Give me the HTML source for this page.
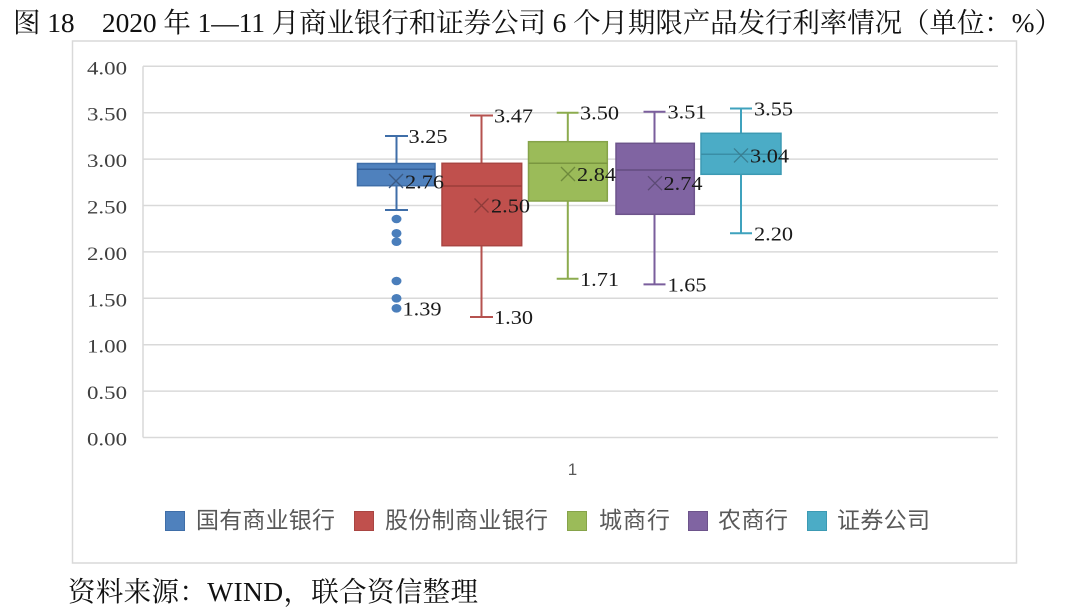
<!DOCTYPE html>
<html>
<head>
<meta charset="utf-8">
<style>
html,body{margin:0;padding:0;background:#fff;}
body{width:1080px;height:613px;overflow:hidden;}
svg{display:block;}
.ax{font-family:"Liberation Serif","Noto Serif CJK SC",serif;font-size:19px;fill:#404040;}
.dl{font-family:"Liberation Serif","Noto Serif CJK SC",serif;font-size:19.5px;fill:#1a1a1a;}
.lg{font-family:"Liberation Sans","Noto Sans CJK SC",sans-serif;font-size:23px;fill:#595959;}
.tt{font-family:"Liberation Serif","Noto Serif CJK SC",serif;font-size:27.5px;fill:#111;}
</style>
</head>
<body>
<svg width="1080" height="613" viewBox="0 0 1080 613" xmlns="http://www.w3.org/2000/svg">
<rect width="1080" height="613" fill="#fff"/>
<!-- title -->
<text class="tt" x="13" y="32" textLength="1049" lengthAdjust="spacing">图 18　2020 年 1—11 月商业银行和证券公司 6 个月期限产品发行利率情况（单位：%）</text>
<!-- outer frame -->
<rect x="72.5" y="41" width="944" height="522" fill="none" stroke="#D9D9D9" stroke-width="1.5"/>
<!-- gridlines -->
<g stroke="#D9D9D9" stroke-width="1.5">
<line x1="143" y1="66.3" x2="998" y2="66.3"/>
<line x1="143" y1="112.7" x2="998" y2="112.7"/>
<line x1="143" y1="159.1" x2="998" y2="159.1"/>
<line x1="143" y1="205.5" x2="998" y2="205.5"/>
<line x1="143" y1="251.9" x2="998" y2="251.9"/>
<line x1="143" y1="298.3" x2="998" y2="298.3"/>
<line x1="143" y1="344.7" x2="998" y2="344.7"/>
<line x1="143" y1="391.1" x2="998" y2="391.1"/>
<line x1="143" y1="437.5" x2="998" y2="437.5"/>
<line x1="143" y1="66.3" x2="143" y2="437.5"/>
</g>
<!-- y axis labels -->
<g class="ax">
<text x="87" y="74.3" textLength="40" lengthAdjust="spacingAndGlyphs">4.00</text>
<text x="87" y="120.7" textLength="40" lengthAdjust="spacingAndGlyphs">3.50</text>
<text x="87" y="167.1" textLength="40" lengthAdjust="spacingAndGlyphs">3.00</text>
<text x="87" y="213.5" textLength="40" lengthAdjust="spacingAndGlyphs">2.50</text>
<text x="87" y="259.9" textLength="40" lengthAdjust="spacingAndGlyphs">2.00</text>
<text x="87" y="306.3" textLength="40" lengthAdjust="spacingAndGlyphs">1.50</text>
<text x="87" y="352.7" textLength="40" lengthAdjust="spacingAndGlyphs">1.00</text>
<text x="87" y="399.1" textLength="40" lengthAdjust="spacingAndGlyphs">0.50</text>
<text x="87" y="445.5" textLength="40" lengthAdjust="spacingAndGlyphs">0.00</text>
</g>
<text x="572.5" y="475" text-anchor="middle" style="font-family:'Liberation Sans',sans-serif;font-size:17px;fill:#595959;">1</text>

<!-- blue series -->
<g stroke="#3F6EA8" stroke-width="2" fill="none">
<line x1="396.5" y1="136" x2="396.5" y2="163.5"/>
<line x1="385" y1="136" x2="408" y2="136"/>
<line x1="396.5" y1="185.7" x2="396.5" y2="210"/>
<line x1="385" y1="210" x2="408" y2="210"/>
</g>
<rect x="357.5" y="163.5" width="77.5" height="22.2" fill="#4F81BD" stroke="#3F6EA8" stroke-width="1.5"/>
<line x1="357.5" y1="169.3" x2="435" y2="169.3" stroke="#35619A" stroke-width="1.5"/>
<g stroke="#3A5A85" stroke-width="1.3"><line x1="389" y1="174" x2="403" y2="188"/><line x1="403" y1="174" x2="389" y2="188"/></g>
<g fill="#4A7EBB">
<ellipse cx="396.5" cy="219" rx="5" ry="4.3"/>
<ellipse cx="396.5" cy="233.3" rx="5" ry="4.3"/>
<ellipse cx="396.5" cy="241.7" rx="5" ry="4.3"/>
<ellipse cx="396.5" cy="281" rx="5" ry="4.3"/>
<ellipse cx="396.5" cy="298.3" rx="5" ry="4.3"/>
<ellipse cx="396.5" cy="308.3" rx="5" ry="4.3"/>
</g>

<!-- red series -->
<g stroke="#B5524F" stroke-width="2" fill="none">
<line x1="481.5" y1="115.5" x2="481.5" y2="163.3"/>
<line x1="470" y1="115.5" x2="493" y2="115.5"/>
<line x1="481.5" y1="245.7" x2="481.5" y2="317"/>
<line x1="470" y1="317" x2="493" y2="317"/>
</g>
<rect x="442" y="163.3" width="79.7" height="82.4" fill="#C0504D" stroke="#A94542" stroke-width="1.5"/>
<line x1="442" y1="186" x2="521.7" y2="186" stroke="#9A3D3A" stroke-width="1.5"/>
<g stroke="#8E3B39" stroke-width="1.3"><line x1="474.5" y1="198.5" x2="488.5" y2="212.5"/><line x1="488.5" y1="198.5" x2="474.5" y2="212.5"/></g>

<!-- green series -->
<g stroke="#8CAB4E" stroke-width="2" fill="none">
<line x1="567.8" y1="112.7" x2="567.8" y2="141.7"/>
<line x1="556.7" y1="112.7" x2="578.5" y2="112.7"/>
<line x1="567.8" y1="201" x2="567.8" y2="278.8"/>
<line x1="556.7" y1="278.8" x2="578.5" y2="278.8"/>
</g>
<rect x="528.5" y="141.7" width="78.8" height="59.3" fill="#9BBB59" stroke="#86A34A" stroke-width="1.5"/>
<line x1="528.5" y1="163.3" x2="607.3" y2="163.3" stroke="#7A9640" stroke-width="1.5"/>
<g stroke="#6E8A3C" stroke-width="1.3"><line x1="561" y1="167" x2="575" y2="181"/><line x1="575" y1="167" x2="561" y2="181"/></g>

<!-- purple series -->
<g stroke="#7A5E9C" stroke-width="2" fill="none">
<line x1="654.5" y1="111.7" x2="654.5" y2="143.3"/>
<line x1="643.5" y1="111.7" x2="665.5" y2="111.7"/>
<line x1="654.5" y1="214.3" x2="654.5" y2="284.4"/>
<line x1="643.5" y1="284.4" x2="665.5" y2="284.4"/>
</g>
<rect x="616" y="143.3" width="78.3" height="71" fill="#8064A2" stroke="#6D548B" stroke-width="1.5"/>
<line x1="616" y1="170" x2="694.3" y2="170" stroke="#624C80" stroke-width="1.5"/>
<g stroke="#5C4A75" stroke-width="1.3"><line x1="648" y1="176.2" x2="662" y2="190.2"/><line x1="662" y1="176.2" x2="648" y2="190.2"/></g>

<!-- teal series -->
<g stroke="#3FA2BD" stroke-width="2" fill="none">
<line x1="741" y1="108.5" x2="741" y2="133.3"/>
<line x1="730" y1="108.5" x2="752" y2="108.5"/>
<line x1="741" y1="174.3" x2="741" y2="233.3"/>
<line x1="730" y1="233.3" x2="752" y2="233.3"/>
</g>
<rect x="701" y="133.3" width="80" height="41" fill="#4BACC6" stroke="#3C9AB3" stroke-width="1.5"/>
<line x1="701" y1="154.3" x2="781" y2="154.3" stroke="#3A8EA6" stroke-width="1.5"/>
<g stroke="#3A7F92" stroke-width="1.3"><line x1="734" y1="148.4" x2="748" y2="162.4"/><line x1="748" y1="148.4" x2="734" y2="162.4"/></g>

<!-- data labels -->
<g class="dl">
<text x="408.5" y="143" textLength="39" lengthAdjust="spacingAndGlyphs">3.25</text>
<text x="405" y="188.5" textLength="39" lengthAdjust="spacingAndGlyphs">2.76</text>
<text x="402.5" y="315.3" textLength="39" lengthAdjust="spacingAndGlyphs">1.39</text>
<text x="494" y="122.5" textLength="39" lengthAdjust="spacingAndGlyphs">3.47</text>
<text x="491" y="212.5" textLength="39" lengthAdjust="spacingAndGlyphs">2.50</text>
<text x="494" y="324" textLength="39" lengthAdjust="spacingAndGlyphs">1.30</text>
<text x="580" y="119.7" textLength="39" lengthAdjust="spacingAndGlyphs">3.50</text>
<text x="577" y="181" textLength="39" lengthAdjust="spacingAndGlyphs">2.84</text>
<text x="580" y="285.8" textLength="39" lengthAdjust="spacingAndGlyphs">1.71</text>
<text x="667.5" y="118.7" textLength="39" lengthAdjust="spacingAndGlyphs">3.51</text>
<text x="663.5" y="190.2" textLength="39" lengthAdjust="spacingAndGlyphs">2.74</text>
<text x="667.5" y="291.4" textLength="39" lengthAdjust="spacingAndGlyphs">1.65</text>
<text x="754" y="115.5" textLength="39" lengthAdjust="spacingAndGlyphs">3.55</text>
<text x="750" y="162.4" textLength="39" lengthAdjust="spacingAndGlyphs">3.04</text>
<text x="754" y="240.3" textLength="39" lengthAdjust="spacingAndGlyphs">2.20</text>
</g>

<!-- legend -->
<rect x="165.5" y="511.5" width="19" height="19" fill="#4F81BD" stroke="#3F6EA8" stroke-width="1"/>
<text class="lg" x="196" y="528" textLength="139">国有商业银行</text>
<rect x="354.5" y="511.5" width="19" height="19" fill="#C0504D" stroke="#A94542" stroke-width="1"/>
<text class="lg" x="385" y="528" textLength="163">股份制商业银行</text>
<rect x="567.5" y="511.5" width="19" height="19" fill="#9BBB59" stroke="#86A34A" stroke-width="1"/>
<text class="lg" x="599" y="528" textLength="71">城商行</text>
<rect x="688.5" y="511.5" width="19" height="19" fill="#8064A2" stroke="#6D548B" stroke-width="1"/>
<text class="lg" x="718" y="528" textLength="70">农商行</text>
<rect x="807.5" y="511.5" width="19" height="19" fill="#4BACC6" stroke="#3C9AB3" stroke-width="1"/>
<text class="lg" x="837" y="528" textLength="93">证券公司</text>

<!-- source -->
<text class="tt" x="68" y="601" textLength="410" lengthAdjust="spacing">资料来源：WIND，联合资信整理</text>
</svg>
</body>
</html>
